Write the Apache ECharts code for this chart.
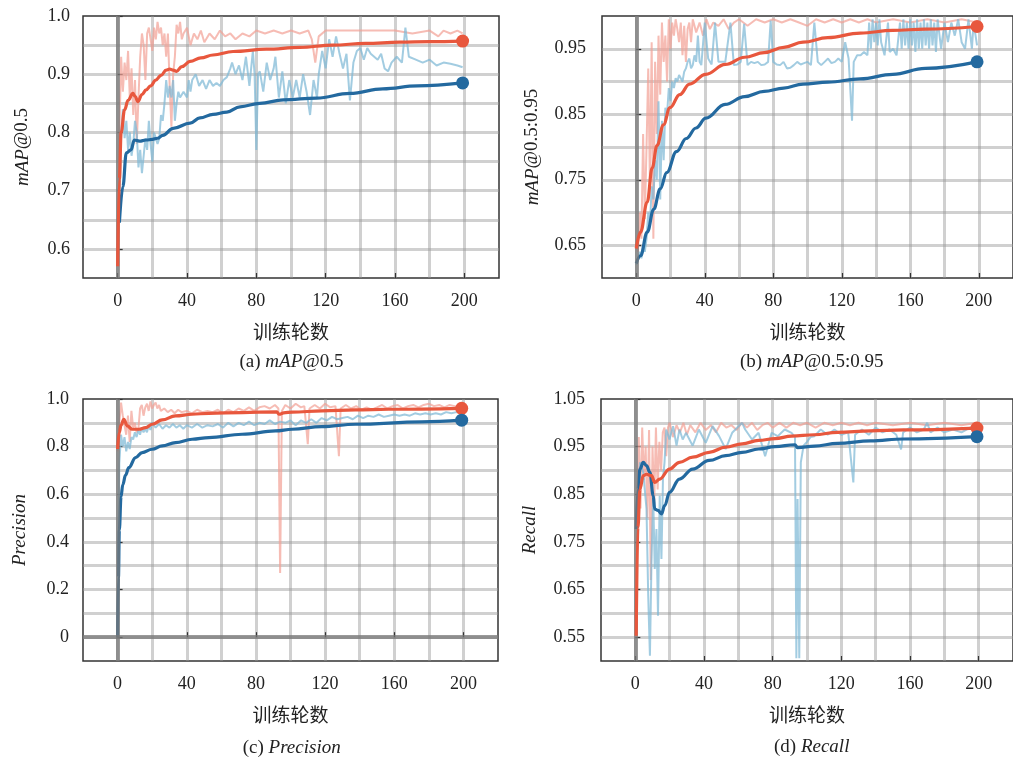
<!DOCTYPE html>
<html><head><meta charset="utf-8">
<script src="https://cdn.jsdelivr.net/npm/echarts@6/dist/echarts.min.js"></script>
<style>html,body{margin:0;padding:0;background:#fff}#c{width:1013px;height:760px}</style>
</head><body><div id="c"></div>
<script>
// ---------- tick labels ----------
const xTicks = [0, 40, 80, 120, 160, 200];
const aYTicks = [0.6, 0.7, 0.8, 0.9, 1.0];
const bYTicks = [0.65, 0.75, 0.85, 0.95];
const cYTicks = [0, 0.2, 0.4, 0.6, 0.8, 1.0];
const dYTicks = [0.55, 0.65, 0.75, 0.85, 0.95, 1.05];

// ---------- (a) mAP@0.5 ----------
const aRedRaw = [[0,0.57],[1,0.80],[2,0.93],[3,0.87],[4,0.92],[5,0.89],[6,0.94],[7,0.86],[8,0.91],[9,0.83],[10,0.89],[11,0.78],[12,0.86],[13,0.93],[14,0.97],[15,0.95],[16,0.89],[17,0.97],[18,0.98],[19,0.96],[20,0.94],[21,0.98],[22,0.96],[23,0.99],[24,0.97],[25,0.98],[26,0.95],[27,0.97],[28,0.93],[29,0.97],[30,0.88],[31,0.81],[32,0.90],[33,0.93],[34,0.985],[35,0.97],[36,0.99],[37,0.96],[38,0.97],[40,0.98],[42,0.95],[44,0.97],[46,0.96],[48,0.975],[50,0.955],[53,0.97],[56,0.96],[59,0.975],[62,0.965],[65,0.97],[68,0.96],[72,0.97],[76,0.965],[80,0.975],[85,0.97],[90,0.975],[95,0.97],[100,0.975],[105,0.97],[110,0.975],[112,0.96],[114,0.92],[116,0.965],[120,0.975],[130,0.975],[140,0.975],[150,0.975],[160,0.975],[170,0.97],[180,0.975],[185,0.965],[188,0.975],[192,0.97],[196,0.975],[199,0.97]];
const aBlueRaw = [[1,0.66],[2,0.80],[3,0.84],[4,0.79],[5,0.82],[6,0.77],[7,0.80],[8,0.76],[9,0.78],[10,0.82],[11,0.80],[12,0.74],[13,0.77],[14,0.73],[15,0.76],[16,0.79],[17,0.77],[18,0.82],[19,0.78],[20,0.75],[21,0.80],[22,0.80],[23,0.78],[24,0.79],[25,0.83],[26,0.82],[27,0.85],[28,0.89],[29,0.86],[30,0.88],[31,0.86],[32,0.89],[33,0.82],[34,0.85],[35,0.87],[36,0.86],[38,0.87],[40,0.86],[41,0.89],[42,0.87],[43,0.89],[45,0.90],[47,0.88],[49,0.89],[51,0.875],[53,0.89],[55,0.88],[57,0.885],[59,0.88],[61,0.89],[63,0.895],[65,0.91],[66,0.92],[68,0.90],[70,0.915],[72,0.89],[74,0.93],[76,0.88],[78,0.94],[79,0.90],[80,0.77],[81,0.90],[82,0.905],[84,0.87],[86,0.92],[88,0.89],[90,0.91],[91,0.93],[93,0.86],[95,0.905],[97,0.85],[99,0.89],[101,0.86],[103,0.89],[105,0.86],[107,0.90],[109,0.87],[111,0.83],[113,0.89],[115,0.86],[116,0.90],[118,0.94],[120,0.91],[122,0.96],[124,0.93],[126,0.965],[128,0.935],[130,0.91],[132,0.935],[134,0.855],[136,0.92],[138,0.94],[140,0.945],[142,0.925],[144,0.945],[146,0.935],[148,0.93],[150,0.925],[152,0.935],[154,0.91],[156,0.905],[158,0.92],[161,0.93],[164,0.92],[166,0.98],[168,0.93],[172,0.925],[176,0.92],[180,0.925],[184,0.915],[188,0.92],[192,0.918],[196,0.915],[199,0.912]];
const aRedSmooth = [[0,0.570],[1,0.72],[2,0.80],[4,0.839],[6,0.855],[8.8,0.867],[10,0.862],[11.7,0.853],[14,0.865],[16.4,0.873],[19,0.880],[22,0.890],[25,0.898],[28,0.907],[30,0.909],[32,0.907],[34,0.905],[37,0.913],[41.8,0.922],[48,0.928],[55,0.933],[66.6,0.939],[85.8,0.943],[105,0.946],[124,0.950],[143,0.953],[162.5,0.955],[180,0.956],[199,0.957]];
const aBlueSmooth = [[1,0.645],[3,0.707],[5,0.765],[7.7,0.770],[9.6,0.787],[12.5,0.785],[16.4,0.787],[20,0.788],[23,0.790],[26,0.795],[32,0.807],[41.8,0.816],[47.5,0.825],[55,0.831],[63,0.835],[70.6,0.844],[82,0.850],[95.6,0.856],[114.8,0.859],[134,0.867],[153,0.875],[173,0.880],[199,0.885]];

// ---------- (b) mAP@0.5:0.95 ----------
const bRedRaw = [[0,0.65],[1,0.64],[2,0.70],[3,0.66],[4,0.82],[5,0.69],[6,0.80],[7,0.92],[8,0.74],[9,0.96],[10,0.66],[11,0.93],[12,0.82],[13,0.97],[14,0.88],[15,0.99],[16,0.93],[17,0.97],[18,0.90],[19,0.995],[20,0.95],[21,0.99],[22,0.97],[23,0.995],[24,0.98],[25,0.96],[26,0.99],[27,0.94],[28,0.985],[29,0.93],[30,0.98],[31,0.99],[32,0.96],[33,0.995],[35,0.975],[37,0.99],[39,0.97],[41,0.995],[43,0.98],[45,0.99],[48,0.985],[51,0.995],[54,0.98],[57,0.99],[60,0.995],[65,0.985],[70,0.995],[75,0.99],[80,0.995],[85,0.99],[90,0.995],[95,0.99],[100,0.985],[105,0.995],[110,0.99],[115,0.995],[120,0.99],[125,0.995],[130,0.99],[135,0.995],[140,0.99],[150,0.995],[160,0.99],[170,0.995],[180,0.99],[190,0.995],[199,0.99]];
const bBlueRaw = [[0,0.62],[1,0.63],[2,0.64],[3,0.63],[4,0.65],[5,0.64],[6,0.66],[7,0.70],[8,0.68],[9,0.74],[10,0.72],[11,0.78],[12,0.75],[13,0.87],[14,0.72],[15,0.84],[16,0.78],[17,0.86],[18,0.85],[19,0.89],[20,0.87],[21,0.90],[22,0.89],[23,0.905],[24,0.90],[25,0.91],[26,0.905],[27,0.90],[28,0.915],[29,0.92],[30,0.93],[31,0.935],[32,0.92],[33,0.925],[34,0.94],[35,0.93],[36,0.97],[37,0.93],[38,0.925],[40,0.99],[42,0.935],[44,0.926],[46,0.99],[48,0.93],[50,0.93],[52,0.93],[55,0.99],[57,0.925],[59,0.926],[61,0.93],[63,0.988],[65,0.925],[67,0.93],[69,0.928],[71,0.93],[73,0.925],[75,0.926],[77,0.93],[78.5,0.993],[80,0.93],[82,0.926],[84,0.925],[86,0.93],[88,0.92],[90,0.921],[92,0.925],[94,0.93],[96,0.926],[98,0.928],[100,0.93],[102,0.925],[104,0.99],[106,0.93],[108,0.925],[110,0.93],[112,0.935],[114,0.928],[116,0.93],[118,0.935],[120,0.93],[122,0.96],[124,0.935],[126,0.84],[127,0.93],[129,0.94],[131,0.94],[133,0.945],[135,0.94],[136,0.99],[137,0.95],[138,0.995],[139,0.96],[140,0.99],[141,0.955],[142,0.995],[143,0.96],[145,0.94],[147,0.99],[148,0.945],[150,0.95],[152,0.94],[154,0.99],[155,0.95],[156,0.995],[157,0.955],[158,0.99],[159,0.95],[160,0.995],[161,0.955],[162,0.99],[163,0.945],[164,0.995],[165,0.95],[166,0.99],[167,0.95],[168,0.995],[169,0.955],[170,0.99],[171,0.95],[172,0.995],[173,0.955],[174,0.99],[175,0.945],[176,0.995],[178,0.95],[180,0.99],[182,0.96],[184,0.99],[186,0.97],[188,0.995],[190,0.96],[192,0.95],[194,0.995],[196,0.95],[197,0.99],[199,0.955]];
const bRedSmooth = [[0,0.645],[2.5,0.670],[6.4,0.716],[9.3,0.768],[12.1,0.802],[15.9,0.834],[19.7,0.860],[25.4,0.880],[31.1,0.896],[40.6,0.911],[52,0.926],[63.3,0.937],[74.7,0.944],[86.1,0.952],[97.4,0.960],[111.8,0.967],[130.8,0.974],[149.8,0.978],[168.7,0.980],[199,0.984]];
const bBlueSmooth = [[0,0.622],[2.5,0.634],[6.4,0.670],[10.2,0.705],[14,0.736],[17.8,0.761],[23.5,0.793],[29.2,0.813],[34.9,0.829],[40.6,0.844],[51.9,0.865],[63.3,0.877],[74.7,0.885],[86.1,0.890],[97.4,0.896],[112,0.899],[130.8,0.904],[149.8,0.911],[168.7,0.920],[199,0.930]];

// ---------- (c) Precision ----------
const cRedRaw = [[0,0.78],[1,0.90],[2,0.985],[3,0.93],[4,0.89],[5,0.85],[6,0.93],[7,0.82],[8,0.95],[9,0.88],[10,0.90],[11,0.86],[12,0.87],[13,0.96],[14,0.975],[15,0.93],[16,0.965],[17,0.98],[18,0.95],[19,0.99],[20,0.96],[21,0.975],[22,0.985],[23,0.96],[24,0.975],[25,0.95],[27,0.96],[29,0.945],[31,0.955],[33,0.94],[35,0.955],[37,0.945],[40,0.95],[43,0.94],[46,0.955],[49,0.945],[52,0.95],[55,0.945],[58,0.955],[61,0.94],[64,0.955],[67,0.945],[70,0.96],[73,0.95],[76,0.965],[79,0.95],[82,0.965],[85,0.97],[88,0.96],[91,0.975],[93,0.96],[94,0.27],[95,0.95],[97,0.975],[100,0.96],[103,0.98],[106,0.965],[108,0.97],[110,0.81],[111,0.96],[114,0.975],[117,0.96],[120,0.98],[123,0.965],[126,0.97],[128,0.76],[129,0.96],[132,0.975],[135,0.96],[138,0.97],[141,0.955],[144,0.965],[147,0.955],[150,0.965],[153,0.975],[156,0.96],[159,0.97],[162,0.975],[165,0.96],[168,0.97],[171,0.975],[174,0.965],[177,0.975],[180,0.98],[183,0.97],[186,0.975],[189,0.965],[192,0.975],[195,0.97],[199,0.965]];
const cBlueRaw = [[0,0.0],[1,0.73],[2,0.85],[3,0.80],[4,0.84],[5,0.78],[6,0.82],[7,0.79],[8,0.84],[9,0.83],[10,0.86],[11,0.84],[12,0.87],[13,0.85],[14,0.88],[15,0.86],[16,0.875],[17,0.86],[18,0.89],[19,0.87],[20,0.90],[22,0.88],[24,0.895],[26,0.875],[28,0.89],[30,0.88],[32,0.895],[34,0.88],[36,0.89],[38,0.875],[40,0.89],[43,0.88],[46,0.895],[49,0.88],[52,0.89],[55,0.885],[58,0.895],[61,0.88],[64,0.90],[67,0.885],[70,0.90],[73,0.89],[76,0.905],[79,0.89],[82,0.90],[85,0.895],[88,0.91],[91,0.895],[94,0.905],[97,0.90],[100,0.91],[103,0.89],[106,0.91],[109,0.90],[112,0.915],[115,0.90],[118,0.92],[121,0.91],[124,0.925],[127,0.915],[130,0.92],[133,0.925],[136,0.915],[139,0.93],[142,0.92],[145,0.93],[148,0.925],[151,0.935],[154,0.925],[157,0.93],[160,0.935],[163,0.93],[166,0.935],[169,0.93],[172,0.94],[175,0.935],[178,0.94],[181,0.935],[184,0.94],[187,0.935],[190,0.945],[193,0.94],[196,0.945],[199,0.94]];
const cRedSmooth = [[0,0.79],[1,0.86],[2,0.89],[3.6,0.915],[5.6,0.887],[8.5,0.873],[12.3,0.873],[16.2,0.880],[20,0.894],[25.8,0.912],[33.5,0.929],[43.1,0.936],[52.8,0.940],[72,0.943],[92,0.946],[93.5,0.936],[96,0.942],[101,0.945],[118.3,0.950],[137.6,0.954],[156.8,0.957],[199,0.961]];
const cBlueSmooth = [[0,0.0],[0.5,0.25],[1,0.45],[2,0.59],[3,0.64],[4.6,0.68],[6.5,0.712],[10.4,0.754],[14.2,0.775],[20,0.789],[25.8,0.803],[33.5,0.817],[43.1,0.831],[52.8,0.838],[72,0.852],[91.3,0.866],[101,0.873],[118,0.884],[137.6,0.894],[176,0.904],[199,0.911]];

// ---------- (d) Recall ----------
const dRedRaw = [[0.5,0.55],[1,0.78],[2,0.97],[3,0.82],[4,0.99],[5,0.88],[6,0.95],[7,0.80],[8,0.985],[9,0.67],[10,0.95],[11,0.83],[12,0.99],[13,0.86],[14,0.96],[15,0.90],[16,0.98],[17,0.99],[18,0.93],[19,0.99],[20,1.0],[22,0.97],[24,0.995],[26,0.98],[28,1.0],[30,0.975],[32,0.995],[35,0.98],[38,1.0],[41,0.985],[44,0.995],[47,0.98],[50,1.0],[53,0.99],[56,0.995],[59,0.985],[62,1.0],[65,0.99],[68,1.0],[71,0.985],[74,0.995],[77,1.0],[80,0.99],[84,1.0],[88,0.99],[92,1.0],[96,0.995],[100,1.0],[105,0.99],[110,1.0],[115,0.995],[120,1.0],[125,0.995],[130,1.0],[135,0.995],[140,1.0],[150,0.995],[160,1.0],[170,0.995],[180,1.0],[190,0.995],[199,1.0]];
const dBlueRaw = [[0.5,0.777],[2.7,0.917],[4.6,0.896],[6.5,0.82],[7.5,0.637],[8.5,0.511],[9.4,0.707],[10.4,0.847],[11.3,0.693],[12.3,0.777],[13.2,0.595],[14.2,0.847],[15.2,0.714],[16.1,0.882],[17,0.917],[18,0.986],[19.9,0.965],[22,0.993],[24,0.952],[25.7,0.986],[27.6,0.965],[29.5,0.979],[33.4,0.952],[37,0.986],[41,0.958],[45,0.993],[48.8,0.972],[52.6,0.945],[56.4,0.979],[62.2,1.0],[64,0.986],[68,0.965],[71.8,0.979],[75.6,0.93],[79.4,0.979],[83,0.972],[87,0.986],[91,0.979],[93,0.97],[93.8,0.506],[94.5,0.84],[95.5,0.506],[96.4,0.917],[98,0.952],[100,0.96],[102,0.97],[104.3,0.972],[108,0.986],[112,0.975],[116,0.986],[120,0.975],[124,0.98],[127,0.875],[128,0.975],[132,0.986],[136,0.975],[140,0.99],[144,0.98],[148,0.986],[152,0.975],[154.8,0.944],[156,0.98],[160,0.99],[164,0.98],[168,0.986],[170,1.0],[172,0.98],[176,0.99],[180,0.98],[185,0.986],[190,0.98],[195,0.99],[199,0.985]];
const dRedSmooth = [[0.5,0.553],[1.5,0.78],[2.7,0.861],[4.6,0.889],[6.5,0.892],[9.4,0.889],[11.3,0.875],[14.2,0.882],[19.9,0.903],[25.7,0.917],[33.4,0.928],[43,0.938],[52.6,0.949],[62.2,0.956],[71.8,0.963],[81.4,0.967],[91,0.972],[104.3,0.975],[117.8,0.980],[137,0.983],[156.2,0.985],[199,0.989]];
const dBlueSmooth = [[0.5,0.777],[1.5,0.86],[2.7,0.903],[4.6,0.917],[6.5,0.910],[8.5,0.896],[10.4,0.847],[11.3,0.819],[13.2,0.816],[15.2,0.809],[17.1,0.826],[19.9,0.854],[25.7,0.882],[33.4,0.903],[43,0.921],[52.6,0.931],[62.2,0.938],[71.8,0.945],[81.4,0.950],[93,0.954],[94.5,0.948],[104.3,0.951],[117.8,0.957],[137,0.962],[156.2,0.966],[199,0.971]];

// ---------- build ----------
const SERIF = 'Liberation Serif';
const CJK = 'Noto Sans CJK SC';
const RED = '#e8573d', BLUE = '#23699f';
const RED_L = 'rgba(242,160,148,0.7)', BLUE_L = 'rgba(126,184,214,0.72)';
const gridLine = {color: 'rgba(150,150,150,0.45)', width: 3};
const richName = {
  i: {fontFamily: SERIF, fontStyle: 'italic', fontSize: 19, color: '#222'},
  n: {fontFamily: SERIF, fontSize: 19, color: '#222'}
};

const panels = [
  {grid: {left: 83, top: 16, width: 416, height: 262}, y: [0.55, 1.0, 0.05], yTicks: aYTicks, dec: 1, yName: '{i|mAP}{n|@0.5}', yGap: 51, yMargin: 13,
   caption: '{n|(a) }{i|mAP}{n|@0.5}', cap: [291.5, 362], data: [aRedRaw, aBlueRaw, aRedSmooth, aBlueSmooth], zeroY: false},
  {grid: {left: 602, top: 16, width: 422, height: 262}, y: [0.6, 1.0, 0.05], yTicks: bYTicks, dec: 2, yName: '{i|mAP}{n|@0.5:0.95}', yGap: 60, yMargin: 16,
   caption: '{n|(b) }{i|mAP}{n|@0.5:0.95}', cap: [811.7, 362], data: [bRedRaw, bBlueRaw, bRedSmooth, bBlueSmooth], zeroY: false},
  {grid: {left: 83, top: 399, width: 415, height: 262}, y: [-0.1, 1.0, 0.1], yTicks: cYTicks, dec: 1, yName: '{i|Precision}', yGap: 54, yMargin: 14,
   caption: '{n|(c) }{i|Precision}', cap: [291.7, 748], data: [cRedRaw, cBlueRaw, cRedSmooth, cBlueSmooth], zeroY: true},
  {grid: {left: 601, top: 399, width: 417, height: 262}, y: [0.5, 1.05, 0.05], yTicks: dYTicks, dec: 2, yName: '{i|Recall}', yGap: 62, yMargin: 16,
   caption: '{n|(d) }{i|Recall}', cap: [811.7, 747], data: [dRedRaw, dBlueRaw, dRedSmooth, dBlueSmooth], zeroY: false}
];

const grid = [], xAxis = [], yAxis = [], series = [], graphic = [];
const tickStyle = {color: '#333', width: 1.2};
panels.forEach((p, i) => {
  grid.push(Object.assign({show: true, borderColor: '#333', borderWidth: 1.5, backgroundColor: '#fff'}, p.grid));
  xAxis.push({
    gridIndex: i, type: 'value', min: -20, max: 220, interval: 20, position: 'bottom',
    axisLine: {show: false}, axisTick: {show: false},
    axisLabel: {customValues: xTicks, margin: 14, fontFamily: SERIF, fontSize: 18, color: '#222'},
    splitLine: {show: true, showMinLine: false, showMaxLine: false, lineStyle: gridLine},
    name: '训练轮数', nameLocation: 'middle', nameGap: 44,
    nameTextStyle: {fontFamily: CJK, fontSize: 19, color: '#222'}
  });
  yAxis.push({
    gridIndex: i, type: 'value', min: p.y[0], max: p.y[1], interval: p.y[2], position: 'left',
    axisLine: {show: false}, axisTick: {show: false},
    axisLabel: {customValues: p.yTicks, margin: p.yMargin, fontFamily: SERIF, fontSize: 18, color: '#222',
      formatter: v => (Math.abs(v) < 1e-9 ? '0' : v.toFixed(p.dec))},
    splitLine: {show: true, showMinLine: false, showMaxLine: false, lineStyle: gridLine},
    name: p.yName, nameLocation: 'middle', nameGap: p.yGap,
    nameTextStyle: {rich: richName}
  });
  const [rr, br, rs, bs] = p.data;
  const mlData = [{xAxis: 0}];
  if (p.zeroY) mlData.push({yAxis: 0});
  series.push({type: 'line', xAxisIndex: i, yAxisIndex: i, data: rr, showSymbol: false, silent: true,
    lineStyle: {color: RED_L, width: 2}, z: 2,
    markLine: {silent: true, symbol: 'none', label: {show: false}, animation: false,
      lineStyle: {color: 'rgba(120,120,120,0.75)', width: 4, type: 'solid'}, data: mlData}});
  series.push({type: 'line', xAxisIndex: i, yAxisIndex: i, data: br, showSymbol: false, silent: true,
    lineStyle: {color: BLUE_L, width: 2}, z: 3});
  series.push({type: 'line', xAxisIndex: i, yAxisIndex: i, data: bs, showSymbol: false, silent: true,
    smooth: 0.4, smoothMonotone: 'x', lineStyle: {color: BLUE, width: 3.2}, z: 4});
  series.push({type: 'line', xAxisIndex: i, yAxisIndex: i, data: rs, showSymbol: false, silent: true,
    smooth: 0.4, smoothMonotone: 'x', lineStyle: {color: RED, width: 3.2}, z: 5});
  series.push({type: 'scatter', xAxisIndex: i, yAxisIndex: i, symbolSize: 13, silent: true, z: 6,
    data: [{value: rs[rs.length - 1], itemStyle: {color: RED, opacity: 1}},
           {value: bs[bs.length - 1], itemStyle: {color: BLUE, opacity: 1}}]});
  graphic.push({type: 'text', x: p.cap[0], y: p.cap[1], silent: true,
    style: {text: p.caption, rich: richName, align: 'center', verticalAlign: 'middle', fill: '#222'}});
});
// tick-only axes (ticks only at labelled values)
panels.forEach((p, i) => {
  xAxis.push({gridIndex: i, type: 'value', min: -20, max: 220, position: 'bottom', offset: 0,
    axisLine: {show: false}, axisLabel: {show: false}, splitLine: {show: false},
    axisTick: {show: true, inside: true, length: 5, customValues: xTicks, lineStyle: tickStyle}});
  yAxis.push({gridIndex: i, type: 'value', min: p.y[0], max: p.y[1], position: 'left', offset: 0,
    axisLine: {show: false}, axisLabel: {show: false}, splitLine: {show: false},
    axisTick: {show: true, inside: true, length: 5, customValues: p.yTicks, lineStyle: tickStyle}});
});

const chart = echarts.init(document.getElementById('c'), null, {renderer: 'canvas'});
chart.setOption({animation: false, grid, xAxis, yAxis, series, graphic});
</script>
</body></html>
